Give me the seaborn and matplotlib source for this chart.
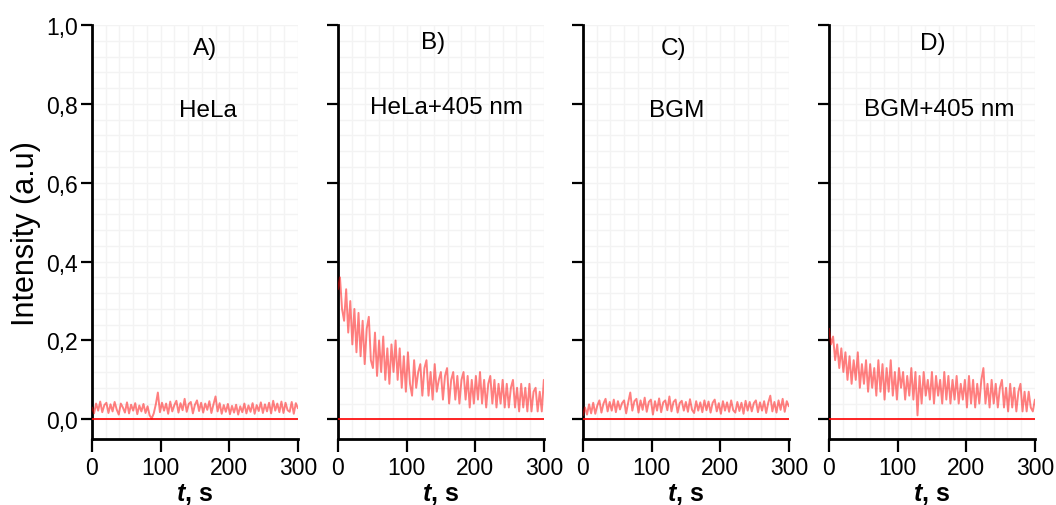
import numpy as np
import pandas as pd
import matplotlib
matplotlib.use("Agg")
import matplotlib.pyplot as plt
import seaborn as sns
from matplotlib.ticker import FuncFormatter

# time axis, one point every 3 s
t = np.arange(0, 301, 3)

hela = [0.030,0.015,0.040,0.022,0.045,0.018,0.036,0.042,0.016,0.038,
        0.020,0.044,0.025,0.012,0.040,0.030,0.017,0.043,0.015,0.037,
        0.022,0.041,0.013,0.035,0.020,0.039,0.016,0.033,0.010,0.002,
        0.015,0.038,0.068,0.018,0.042,0.022,0.040,0.014,0.045,0.020,
        0.036,0.047,0.017,0.041,0.023,0.052,0.019,0.039,0.044,0.015,
        0.037,0.048,0.021,0.042,0.017,0.040,0.024,0.046,0.016,0.038,
        0.058,0.020,0.041,0.014,0.036,0.019,0.039,0.013,0.034,0.017,
        0.037,0.012,0.033,0.018,0.040,0.015,0.035,0.019,0.041,0.014,
        0.036,0.021,0.043,0.016,0.038,0.020,0.042,0.015,0.047,0.022,
        0.040,0.018,0.045,0.016,0.042,0.023,0.019,0.044,0.014,0.041,
        0.028]

hela_405 = [0.33,0.36,0.28,0.25,0.33,0.22,0.30,0.19,0.28,0.17,
            0.27,0.16,0.25,0.14,0.23,0.26,0.15,0.13,0.22,0.11,
            0.20,0.12,0.21,0.10,0.18,0.09,0.19,0.12,0.20,0.10,
            0.18,0.08,0.16,0.07,0.17,0.09,0.06,0.15,0.08,0.12,
            0.14,0.06,0.13,0.15,0.06,0.12,0.05,0.14,0.07,0.10,
            0.12,0.05,0.11,0.13,0.04,0.10,0.12,0.05,0.11,0.04,
            0.10,0.12,0.05,0.11,0.03,0.10,0.04,0.11,0.05,0.12,
            0.04,0.10,0.03,0.09,0.11,0.04,0.10,0.03,0.09,0.04,
            0.10,0.03,0.09,0.03,0.08,0.10,0.03,0.08,0.02,0.09,
            0.03,0.08,0.02,0.09,0.02,0.07,0.08,0.02,0.07,0.02,
            0.10]

bgm = [0.010,0.030,0.012,0.038,0.015,0.042,0.014,0.035,0.048,0.017,
       0.040,0.052,0.020,0.044,0.022,0.050,0.018,0.046,0.025,0.041,
       0.048,0.015,0.043,0.068,0.022,0.046,0.052,0.017,0.048,0.024,
       0.055,0.019,0.044,0.050,0.012,0.046,0.022,0.053,0.018,0.043,
       0.048,0.023,0.058,0.020,0.044,0.050,0.017,0.041,0.047,0.022,
       0.044,0.019,0.051,0.024,0.016,0.046,0.022,0.043,0.018,0.048,
       0.023,0.045,0.017,0.042,0.050,0.020,0.041,0.014,0.046,0.022,
       0.043,0.019,0.048,0.023,0.017,0.044,0.021,0.042,0.014,0.047,
       0.022,0.044,0.020,0.041,0.048,0.018,0.043,0.022,0.046,0.016,
       0.042,0.060,0.020,0.044,0.017,0.048,0.024,0.052,0.019,0.046,
       0.033]

bgm_405 = [0.23,0.19,0.21,0.15,0.19,0.13,0.18,0.12,0.17,0.10,
           0.16,0.09,0.15,0.10,0.17,0.08,0.14,0.09,0.15,0.07,
           0.14,0.08,0.13,0.06,0.15,0.07,0.14,0.05,0.13,0.07,
           0.15,0.06,0.12,0.05,0.13,0.08,0.12,0.05,0.11,0.06,
           0.13,0.05,0.12,0.01,0.11,0.04,0.12,0.06,0.10,0.05,
           0.12,0.04,0.11,0.06,0.10,0.04,0.12,0.05,0.11,0.04,
           0.10,0.05,0.11,0.04,0.09,0.05,0.10,0.03,0.11,0.04,
           0.10,0.03,0.09,0.04,0.10,0.13,0.04,0.09,0.03,0.10,
           0.04,0.09,0.03,0.08,0.10,0.03,0.08,0.02,0.09,0.03,
           0.08,0.02,0.07,0.09,0.02,0.07,0.02,0.07,0.03,0.02,
           0.05]

letters = ["A)", "B)", "C)", "D)"]
names = ["HeLa", "HeLa+405 nm", "BGM", "BGM+405 nm"]
series = [hela, hela_405, bgm, bgm_405]
y_ticks = [0.0, 0.2, 0.4, 0.6, 0.8, 1.0]
x_ticks = [0, 100, 200, 300]

# label placement (data coords) per panel
letter_pos = [(165, 0.942), (139, 0.958), (132, 0.942), (151, 0.955)]
name_pos = [(169, 0.785), (158, 0.793), (136, 0.785), (160, 0.788)]

sns.set_style("white")
plt.rcParams['font.family'] = ['Liberation Sans', 'DejaVu Sans']
plt.rcParams['text.color'] = 'black'
plt.rcParams['axes.labelcolor'] = 'black'
plt.rcParams['xtick.color'] = 'black'
plt.rcParams['ytick.color'] = 'black'
plt.rcParams['mathtext.fontset'] = 'custom'
plt.rcParams['mathtext.it'] = 'Liberation Sans:italic:bold'

fig = plt.figure(figsize=(10.56, 5.06), dpi=100)
lefts = [0.0871, 0.320, 0.552, 0.785]

for i in range(4):
    ax = fig.add_axes([lefts[i], 0.1304, 0.195, 0.818])
    df = pd.DataFrame({'t': t, 'I': series[i]})
    ax.axhline(0, color=(1, 0, 0), lw=1.2, zorder=3)
    sns.lineplot(data=df, x='t', y='I', ax=ax, color=(1, 0, 0), alpha=0.5, lw=1.4, zorder=4)

    ax.set_xlim(0, 300)
    ax.set_ylim(-0.05, 1.0)
    ax.set_xticks(x_ticks)
    ax.set_yticks(y_ticks)
    ax.set_xticks(np.arange(0, 301, 20), minor=True)
    ax.set_yticks(np.arange(0, 1.001, 0.04), minor=True)
    ax.grid(True, which='both', color='#f3f3f3', lw=1.0, zorder=0)
    ax.tick_params(axis='both', which='minor', length=0)
    ax.tick_params(axis='y', which='major', direction='out', length=8, width=1.6, labelsize=16.5, pad=2, left=True)
    ax.tick_params(axis='x', which='major', direction='out', length=9, width=1.6, labelsize=16.5, pad=3, bottom=True)
    ax.yaxis.set_major_formatter(FuncFormatter(lambda v, p: f"{v:.1f}".replace('.', ',')))
    for s in ['top', 'right']:
        ax.spines[s].set_visible(False)
    for s in ['left', 'bottom']:
        ax.spines[s].set_linewidth(2.0)
        ax.spines[s].set_color('black')

    ax.set_xlabel(r"$\mathit{t}$, s", fontsize=18, fontweight='bold', labelpad=2)
    if i == 0:
        ax.set_ylabel("Intensity (a.u)", fontsize=22, labelpad=4)
    else:
        ax.set_ylabel("")
        ax.tick_params(axis='y', labelleft=False)

    ax.text(letter_pos[i][0], letter_pos[i][1], letters[i], fontsize=17.5, ha='center', va='center')
    ax.text(name_pos[i][0], name_pos[i][1], names[i], fontsize=17.5, ha='center', va='center')

fig.savefig("out.png", dpi=100)
